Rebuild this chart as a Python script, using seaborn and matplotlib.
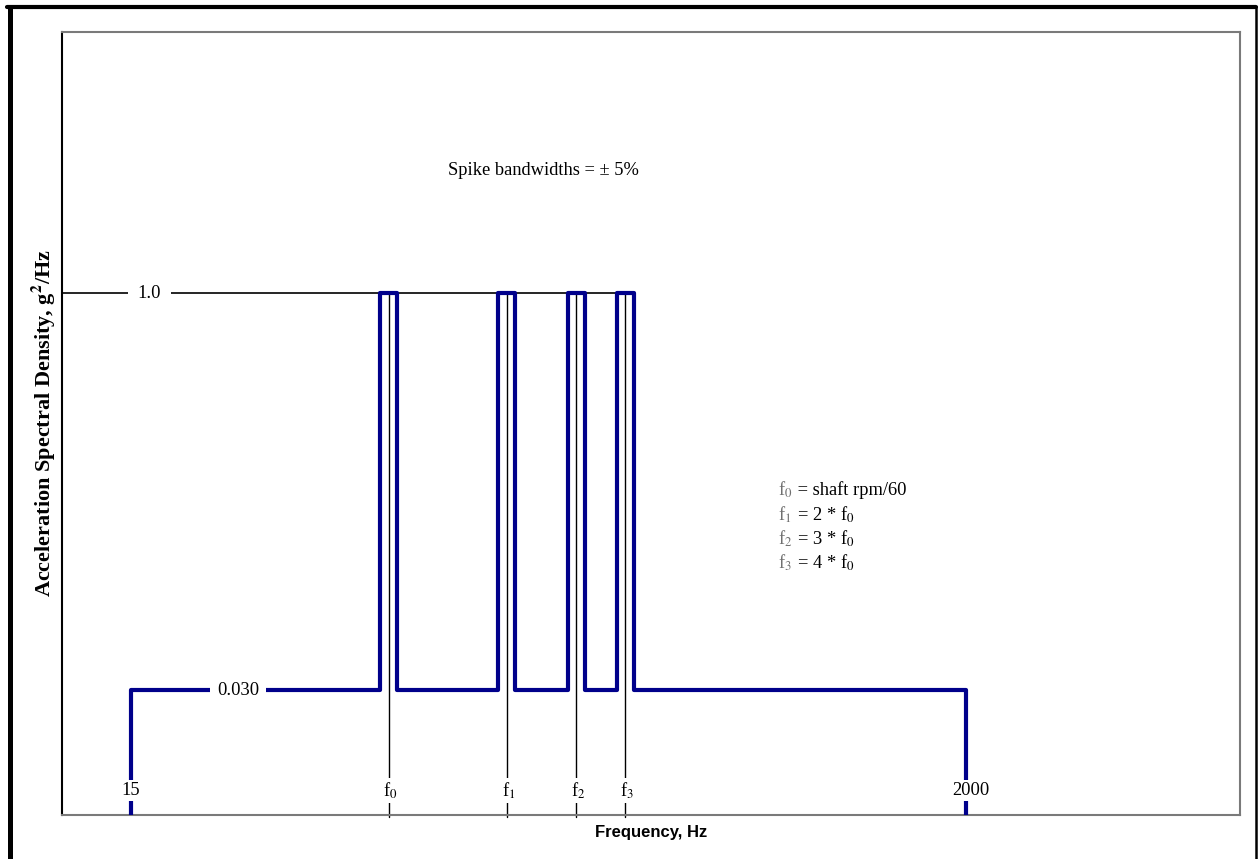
import numpy as np
import pandas as pd
import seaborn as sns
import matplotlib
matplotlib.use("Agg")
import matplotlib.pyplot as plt
from matplotlib.ticker import NullLocator
from matplotlib.lines import Line2D

# ---- data ----
f_low = 15
f_high = 2000
f0 = 68.0
harmonics = [1, 2, 3, 4]
spike_labels = ["f$_0$", "f$_1$", "f$_2$", "f$_3$"]
bandwidth = 0.05
base_level = 0.030
spike_level = 1.0
floor_level = 0.01
legend_lines = [("f$_0$", " = shaft rpm/60"), ("f$_1$", " = 2 * f$_0$"),
                ("f$_2$", " = 3 * f$_0$"), ("f$_3$", " = 4 * f$_0$")]

# ---- profile ----
spikes = [f0 * h for h in harmonics]
xs = [f_low, f_low]
ys = [floor_level, base_level]
for fc in spikes:
    lo, hi = fc * (1 - bandwidth), fc * (1 + bandwidth)
    xs += [lo, lo, hi, hi]
    ys += [base_level, spike_level, spike_level, base_level]
xs += [f_high, f_high]
ys += [base_level, floor_level]
df = pd.DataFrame({"freq": xs, "asd": ys, "order": range(len(xs))})

sns.set_style("white")
plt.rcParams["font.family"] = ["Liberation Serif", "DejaVu Serif"]
plt.rcParams["mathtext.fontset"] = "stix"
plt.rcParams["text.color"] = "black"
plt.rcParams["axes.labelcolor"] = "black"

fig = plt.figure(figsize=(12.58, 8.59), dpi=100)
ax = fig.add_axes([62/1258, 1-815/859, 1178/1258, 783/859])
ax.set_xscale("log")
ax.set_yscale("log")
ax.set_xlim(10, 10000)
ax.set_ylim(0.01, 10)

navy = "#00008B"
# reference 1.0 line
ax.plot([10, spikes[-1] * (1 + bandwidth)], [spike_level, spike_level], color="black", lw=1.2, zorder=2)
# centre lines of spikes
for fc in spikes:
    ax.plot([fc, fc], [spike_level, 0.00985], color="black", lw=1.0, zorder=2, clip_on=False)

sns.lineplot(data=df, x="freq", y="asd", sort=False, estimator=None, color=navy,
             lw=3, ax=ax, zorder=3)

fs = 13.3
txt_kw = dict(ha="center", va="center", fontsize=fs, zorder=5,
              bbox=dict(facecolor="white", edgecolor="none", pad=1.5))
ax.text(16.7, spike_level, "1.0", **{**txt_kw, "bbox": dict(facecolor="white", edgecolor="none", pad=7)})
ax.text(28.1, base_level, "0.030", **{**txt_kw, "bbox": dict(facecolor="white", edgecolor="none", pad=5)})
ylab = 0.0124
ax.text(f_low, ylab, "15", **txt_kw)
ax.text(f_high * 1.03, ylab, "2000", **txt_kw)
for fc, lab in zip(spikes, spike_labels):
    ax.text(fc * 1.01, ylab, lab, **txt_kw)

ax.text(168, 2.95, "Spike bandwidths = \u00b1 5%", ha="center", va="center", fontsize=fs)

for i, (a, b) in enumerate(legend_lines):
    yy = (815 - (490 + 24.4 * i)) / 783
    ax.text(0.608, yy, a, transform=ax.transAxes, ha="left", va="center", fontsize=fs, color="#707070")
    ax.text(0.6205, yy, b, transform=ax.transAxes, ha="left", va="center", fontsize=fs, color="black")

ax.set_xticks([])
ax.set_yticks([])
ax.xaxis.set_minor_locator(NullLocator())
ax.yaxis.set_minor_locator(NullLocator())
ax.set_xlabel("Frequency, Hz", fontsize=12, fontweight="bold", family=["Liberation Sans", "DejaVu Sans"])
ax.set_ylabel("Acceleration Spectral Density, g$^\\mathbf{2}$/Hz", fontsize=16, fontweight="bold")
ax.xaxis.set_label_coords(0.5, -0.0128)
ax.yaxis.set_label_coords(-0.0034, 0.5)

for s in ["top", "right", "bottom"]:
    ax.spines[s].set_color("#7a7a7a")
    ax.spines[s].set_linewidth(1.5)
ax.spines["left"].set_color("black")
ax.spines["left"].set_linewidth(1.5)

# page frame (bottom edge lies outside the image)
W, H = 1258, 859
fig.add_artist(Line2D([9.5/W, 9.5/W], [0, 1 - 7/H], transform=fig.transFigure, color="black", lw=3.6))
fig.add_artist(Line2D([7/W, 1256/W], [1 - 7/H, 1 - 7/H], transform=fig.transFigure, color="black", lw=3.0))
fig.add_artist(Line2D([1256/W, 1256/W], [0, 1 - 7/H], transform=fig.transFigure, color="black", lw=1.8))

fig.savefig("out.png", dpi=100)
